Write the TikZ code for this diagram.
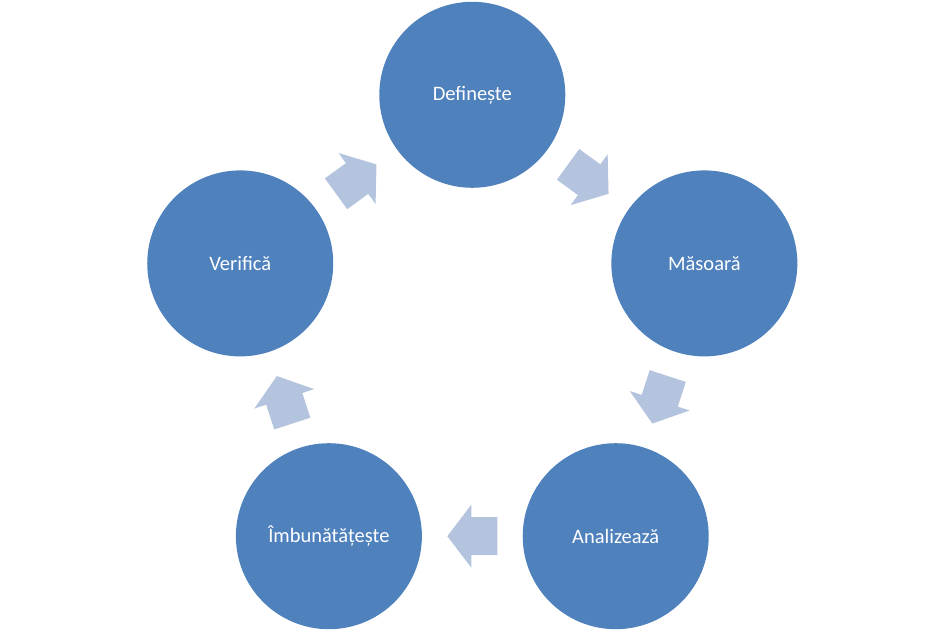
\documentclass[tikz,border=0pt]{standalone}
\usepackage{fontspec}
\setmainfont{Carlito}
\definecolor{stageblue}{RGB}{79,129,189}
\definecolor{arrowblue}{RGB}{180,196,222}
\begin{document}
\begin{tikzpicture}[x=1pt,y=1pt,
  stage/.style={circle, fill=stageblue, minimum size=186pt, inner sep=0pt,
    text=white, font=\fontsize{20.5}{24}\selectfont},
  cyc/.pic={\fill[arrowblue] (25,0) -- (1,31.5) -- (1,19) -- (-25,19)
    -- (-25,-19) -- (1,-19) -- (1,-31.5) -- cycle;}
]
\useasboundingbox (0,-631) rectangle (943,0);
\coordinate (C) at (472.3,-338.8);
\begin{scope}[shift={(C)}]
  \node[stage] (def) at (90:244) {Definește};
  \node[stage] (mas) at (18:244) {Măsoară};
  \node[stage] (ana) at (-54:244) {Analizează};
  \node[stage] (imb) at (-126:244) {Îmbunătățește};
  \node[stage] (ver) at (162:244) {Verifică};
  \foreach \a in {54,-18,-90,-162,126}
    \pic[rotate=\a-90] at (\a:197.4) {cyc};
\end{scope}
\end{tikzpicture}
\end{document}
